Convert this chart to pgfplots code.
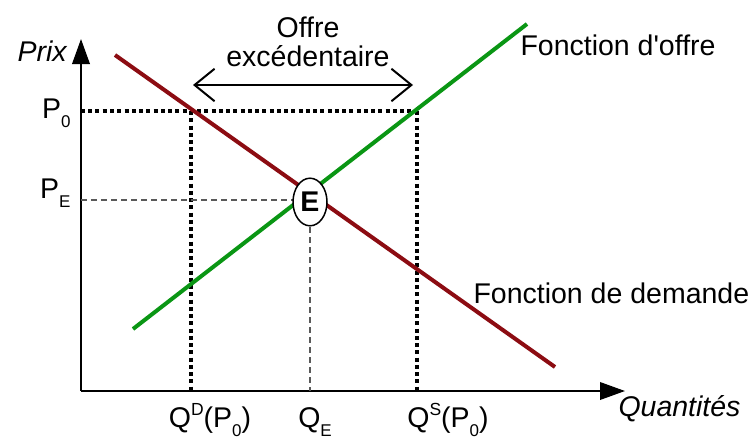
\documentclass[border=0pt]{standalone}
\usepackage{fontspec}
\setmainfont{Liberation Sans}
\usepackage{pgfplots}
\pgfplotsset{compat=1.18}
\usetikzlibrary{arrows.meta}

\definecolor{demande}{RGB}{140,12,18}
\definecolor{offre}{RGB}{10,150,20}

\newcommand{\lbl}{\fontsize{11.4}{13.5}\selectfont}
\newcommand{\lowidx}[1]{\raisebox{-0.6ex}{\fontsize{6.8}{7}\selectfont #1}}
\newcommand{\highidx}[1]{\raisebox{0.75ex}{\fontsize{7}{7}\selectfont #1}}

\begin{document}
\lbl
\begin{tikzpicture}[every node/.append style={font=\lbl, inner sep=0pt}]
\begin{axis}[
  scale only axis,
  width=217.6pt, height=140.8pt,
  xmin=0, xmax=544, ymin=0, ymax=352,
  axis lines=left,
  axis line style={line width=0.8pt, -{Triangle[length=10pt,width=7pt]}},
  ticks=none,
  clip=false,
]
% prix de marche P0 et quantites correspondantes
\addplot[black, line width=1.6pt, dash pattern=on 1.6pt off 1.3pt]
  coordinates {(0,280) (336,280)};
\addplot[black, line width=1.6pt, dash pattern=on 1.6pt off 1.3pt]
  coordinates {(110,280) (110,0)};
\addplot[black, line width=1.6pt, dash pattern=on 1.6pt off 1.3pt]
  coordinates {(336,280) (336,0)};

% equilibre
\addplot[gray!70!black, line width=0.45pt, dash pattern=on 2.4pt off 1.6pt]
  coordinates {(0,191) (212,191)};
\addplot[gray!70!black, line width=0.45pt, dash pattern=on 2.4pt off 1.6pt]
  coordinates {(229,164) (229,0)};

% courbes de demande et d'offre
\addplot[demande, line width=1.6pt] coordinates {(34,336) (474,24)};
\addplot[offre, line width=1.6pt] coordinates {(52,62) (446,367)};

% point d'equilibre E
\addplot[only marks, mark=*, mark size=6.8pt,
  mark options={yscale=1.4, fill=white, draw=black, line width=0.6pt},
  nodes near coords={\textbf{E}},
  every node near coord/.style={anchor=center, font=\lbl, text=black}]
  coordinates {(229,189)};

% textes
\node[anchor=east] at (axis cs:-13,340) {\textit{Prix}};
\node[anchor=base east] at (axis cs:-10,273) {P\lowidx{0}};
\node[anchor=base east] at (axis cs:-10,193) {P\lowidx{E}};
\node[anchor=base] at (axis cs:129,-36) {Q\highidx{D}(P\lowidx{0})};
\node[anchor=base] at (axis cs:234,-36) {Q\lowidx{E}};
\node[anchor=base] at (axis cs:367,-36) {Q\highidx{S}(P\lowidx{0})};
\node[anchor=base west] at (axis cs:537,-25) {\textit{Quantités}};

\node at (axis cs:227,364) {Offre};
\node at (axis cs:227,335) {excédentaire};
\draw[line width=0.8pt, {Straight Barb[length=8pt,width=13pt]}-{Straight Barb[length=8pt,width=13pt]}]
  (axis cs:112,306) -- (axis cs:332,306);

\node[anchor=west] at (axis cs:439,346) {Fonction d\textquotesingle offre};
\node[anchor=west] at (axis cs:392,98) {Fonction de demande};

\coordinate (bbA) at (axis cs:-81,-50);
\coordinate (bbB) at (axis cs:671,391);
\end{axis}
\pgfresetboundingbox
\path[use as bounding box] (bbA) rectangle (bbB);
\end{tikzpicture}
\end{document}
